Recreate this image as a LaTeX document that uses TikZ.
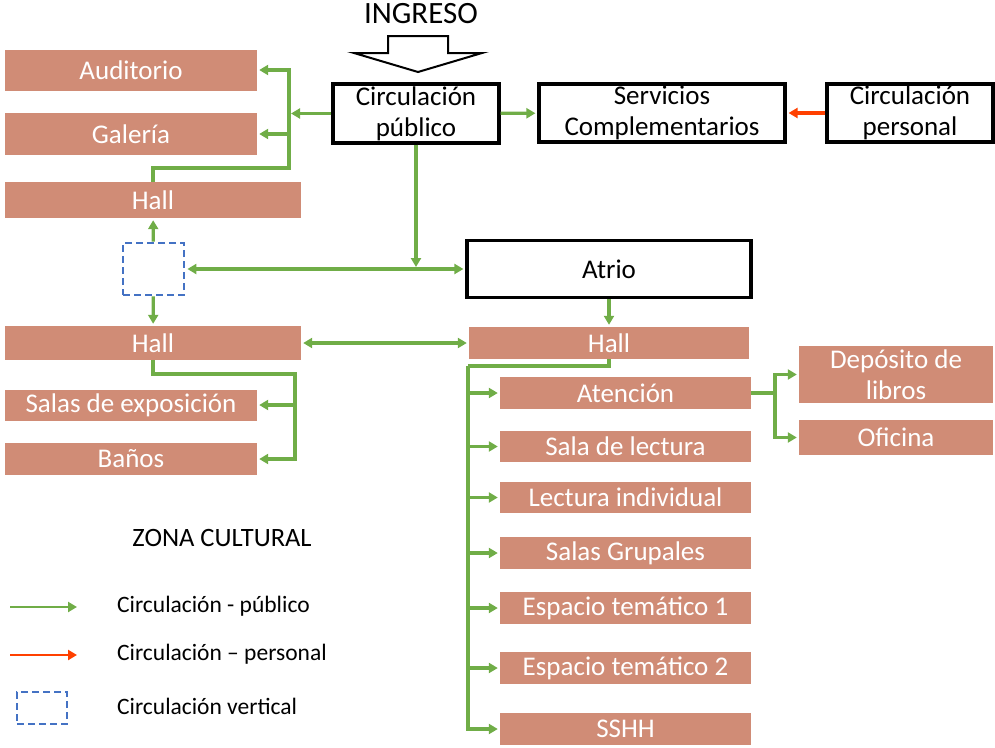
\documentclass[tikz,border=0pt]{standalone}
\usepackage{fontspec}
\setmainfont{Carlito}
\usetikzlibrary{arrows.meta}

\definecolor{roomfill}{RGB}{208,140,118}
\definecolor{flowgreen}{RGB}{112,173,71}
\definecolor{staffred}{RGB}{255,64,0}
\definecolor{vertblue}{RGB}{68,114,196}

\begin{document}
\begin{tikzpicture}[x=1pt,y=-1pt]

\tikzset{room/.style = {fill=roomfill, text=white, inner sep=0pt, align=center,
  font=\fontsize{27}{31}\selectfont}}
\tikzset{zone/.style = {draw, line width=3.2pt, fill=white, inner sep=0pt, align=center,
  font=\fontsize{27}{31}\selectfont}}
\tikzset{vert/.style = {draw=vertblue, dash pattern=on 7pt off 4pt, line width=2.8pt}}
\tikzset{flow/.style = {->, > = {Triangle[length=9pt,width=10pt]}, draw=flowgreen, line width=3.2pt, shorten >=2pt}}
\tikzset{staff/.style = {->, > = {Triangle[length=9pt,width=10pt]}, draw=staffred, line width=3.2pt, shorten >=2pt}}
\tikzset{legend/.style = {anchor=west, inner sep=0pt, font=\fontsize{23.5}{28}\selectfont}}

\useasboundingbox (0,0) rectangle (995,747);

%ingreso
\node[font=\fontsize{31}{36}\selectfont] (ingreso) at (421,14) {INGRESO};
\draw[line width=2pt, fill=white] (388,36) -- (448,36) -- (448,53) -- (482,53)
  -- (418,72) -- (354,53) -- (388,53) -- cycle;

%zonas
\node[zone, minimum width=166pt, minimum height=59pt] (cpub) at (416,113.5) {Circulación\\público};
\node[zone, minimum width=246pt, minimum height=58pt] (serv) at (662,113) {Servicios\\Complementarios};
\node[zone, minimum width=166pt, minimum height=58pt] (cper) at (910,113) {Circulación\\personal};
\node[zone, minimum width=284pt, minimum height=57pt] (atrio) at (609,269) {Atrio};
\node[vert, minimum width=61pt, minimum height=52pt] (vbox) at (153.5,269) {};

%zona cultural
\node[room, minimum width=252pt, minimum height=41pt] (audit) at (131,70) {Auditorio};
\node[room, minimum width=252pt, minimum height=42pt] (galer) at (131,134) {Galería};
\node[room, minimum width=296pt, minimum height=36pt] (hall1) at (153,200) {Hall};
\node[room, minimum width=296pt, minimum height=34pt] (hall2) at (153,343) {Hall};
\node[room, minimum width=252pt, minimum height=31pt] (expo) at (131,405) {Salas de exposición};
\node[room, minimum width=252pt, minimum height=32pt] (banos) at (131,459) {Baños};
\node[font=\fontsize{26.5}{31}\selectfont] (zcult) at (222,538) {ZONA CULTURAL};

%biblioteca
\node[room, minimum width=280pt, minimum height=32pt] (hall3) at (609,343) {Hall};
\node[room, minimum width=251pt, minimum height=32pt] (aten) at (625.5,393) {Atención};
\node[room, minimum width=251pt, minimum height=31pt] (lect) at (625.5,446.5) {Sala de lectura};
\node[room, minimum width=251pt, minimum height=31pt] (indiv) at (625.5,497.5) {Lectura individual};
\node[room, minimum width=251pt, minimum height=32pt] (grup) at (625.5,553) {Salas Grupales};
\node[room, minimum width=251pt, minimum height=32pt] (esp1) at (625.5,608) {Espacio temático 1};
\node[room, minimum width=251pt, minimum height=32pt] (esp2) at (625.5,668) {Espacio temático 2};
\node[room, minimum width=251pt, minimum height=32pt] (sshh) at (625.5,729) {SSHH};
\node[room, minimum width=194pt, minimum height=57pt] (depo) at (896,374.5) {Depósito de\\libros};
\node[room, minimum width=194pt, minimum height=35pt] (ofic) at (896,437.5) {Oficina};

%corners
\coordinate (nw) at (289,168);
\coordinate (sw) at (295,374);
\coordinate (se) at (468,366);
\coordinate (ae) at (775,393);

%edges
\draw [flow] (cpub) -- (cpub -| nw);
\draw [flow] (hall1.north) |- (nw) |- (audit);
\draw [flow] (nw) |- (galer);
\draw [flow] (cpub) -- (serv);
\draw [staff] (cper) -- (serv);
\draw [flow] (cpub.south) -- (cpub.south |- atrio);
\draw [flow, <->, shorten <=2pt] (vbox) -- (atrio);
\draw [flow] (vbox) -- (hall1);
\draw [flow] (vbox) -- (hall2);
\draw [flow, <->, shorten <=2pt] (hall2) -- (hall3);
\draw [flow] (atrio) -- (hall3);
\draw [flow] (hall2.south) |- (sw) |- (expo);
\draw [flow] (sw) |- (banos);
\draw [draw=flowgreen, line width=3.2pt] (hall3.south) |- (se);
\foreach \n in {aten,lect,indiv,grup,esp1,esp2,sshh}
  \draw [flow] (se) |- (\n);
\draw [flow] (aten) -- (ae) |- (depo);
\draw [flow] (ae) |- (ofic);

%legend
\coordinate (lg1a) at (10,607);
\coordinate (lg1b) at (79,607);
\coordinate (lg2a) at (10,655);
\coordinate (lg2b) at (79,655);
\draw [flow, line width=2.6pt] (lg1a) -- (lg1b);
\draw [staff, line width=2.6pt] (lg2a) -- (lg2b);
\node[vert, line width=2.4pt, minimum width=50pt, minimum height=32pt] (lgv) at (42,708) {};
\node[legend] (lgt1) at (117,606) {Circulación - público};
\node[legend] (lgt2) at (117,654) {Circulación – personal};
\node[legend] (lgt3) at (117,706) {Circulación vertical};

\end{tikzpicture}
\end{document}
